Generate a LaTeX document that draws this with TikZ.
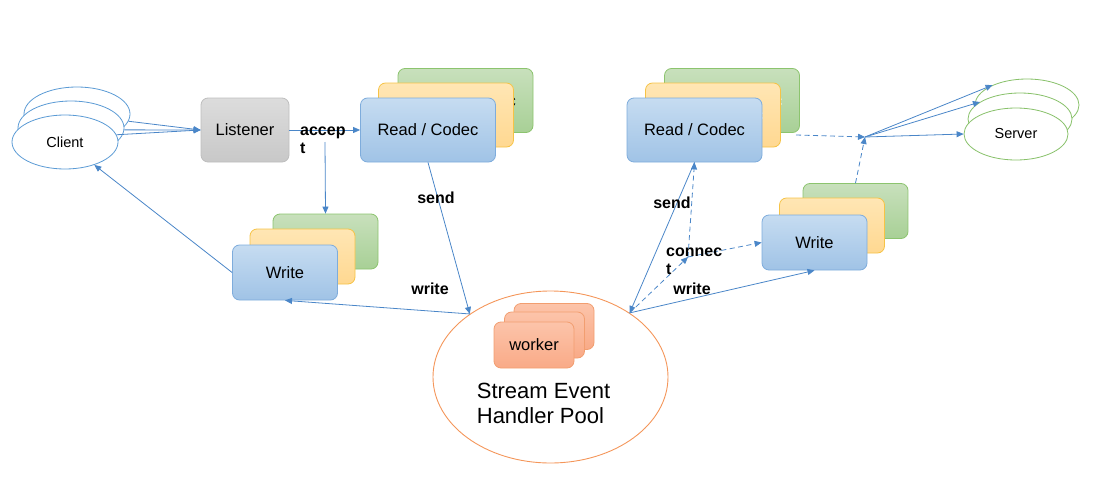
\documentclass[tikz,border=0pt]{standalone}
\usepackage{fontspec}
\setmainfont{Liberation Sans}
\usetikzlibrary{shapes.geometric,arrows.meta}
\definecolor{arrowc}{RGB}{74,134,200}
\definecolor{bluestroke}{RGB}{126,172,220}
\definecolor{bluetop}{RGB}{198,220,241}
\definecolor{bluebot}{RGB}{160,195,230}
\definecolor{yelstroke}{RGB}{246,195,70}
\definecolor{yeltop}{RGB}{255,230,180}
\definecolor{yelbot}{RGB}{255,216,145}
\definecolor{grnstroke}{RGB}{140,196,110}
\definecolor{grntop}{RGB}{200,224,188}
\definecolor{grnbot}{RGB}{168,208,150}
\definecolor{graystroke}{RGB}{190,190,190}
\definecolor{graytop}{RGB}{220,220,220}
\definecolor{graybot}{RGB}{200,200,200}
\definecolor{wkstroke}{RGB}{242,158,112}
\definecolor{wktop}{RGB}{252,196,170}
\definecolor{wkbot}{RGB}{249,170,135}
\definecolor{poolstroke}{RGB}{244,150,90}
\definecolor{clistroke}{RGB}{91,155,213}
\definecolor{srvstroke}{RGB}{136,193,106}
\tikzset{
  bx/.style={draw, rounded corners=7pt, inner sep=0pt, line width=0.8pt, font=\fontsize{16.5}{19}\selectfont},
  bluebx/.style={bx, draw=bluestroke, top color=bluetop, bottom color=bluebot},
  yelbx/.style={bx, draw=yelstroke, top color=yeltop, bottom color=yelbot},
  grnbx/.style={bx, draw=grnstroke, top color=grntop, bottom color=grnbot},
  graybx/.style={bx, draw=graystroke, top color=graytop, bottom color=graybot},
  wkbx/.style={bx, draw=wkstroke, top color=wktop, bottom color=wkbot, minimum width=80pt, minimum height=46pt},
  readsz/.style={minimum width=135pt, minimum height=64pt},
  writesz/.style={minimum width=105pt, minimum height=55pt},
  cli/.style={ellipse, draw=clistroke, fill=white, line width=0.8pt, minimum width=106pt, minimum height=54pt, inner sep=0pt, font=\fontsize{14.5}{17}\selectfont},
  srv/.style={ellipse, draw=srvstroke, fill=white, line width=0.8pt, minimum width=104pt, minimum height=52pt, inner sep=0pt, font=\fontsize{14.5}{17}\selectfont},
  arr/.style={draw=arrowc, line width=0.8pt, -{Triangle[length=7pt,width=6pt]}},
  dsh/.style={arr, dash pattern=on 5pt off 3.5pt},
  lbl/.style={font=\bfseries\fontsize{16}{18}\selectfont, align=left, inner sep=0pt}
}
\begin{document}
\begin{tikzpicture}[x=1pt,y=-1pt]
\useasboundingbox (0,0) rectangle (1103,479);
% clients
\node[cli] (cb) at (77,114) {};
\node[cli] (cm) at (71,128) {};
\node[cli] (cf) at (65,142) {Client};
% listener
\node[graybx, minimum width=88pt, minimum height=64pt] (lis) at (245,130) {Listener};
% left read stack
\node[grnbx, readsz] (rl3) at (465.5,100.5) {Read / Codec};
\node[yelbx, readsz] (rl2) at (446,115) {Read / Codec};
\node[bluebx, readsz] (rl1) at (428,130) {Read / Codec};
% left write stack
\node[grnbx, writesz] (lw3) at (325.5,241.5) {};
\node[yelbx, writesz] (lw2) at (302.5,256.5) {};
\node[bluebx, writesz] (lw1) at (285,272.5) {Write};
% right read stack
\node[grnbx, readsz, text=white] (rr3) at (732,100.5) {Read / Codec};
\node[yelbx, readsz, text=white] (rr2) at (713,115) {Read / Codec};
\node[bluebx, readsz] (rr1) at (694.5,130) {Read / Codec};
% right write stack
\node[grnbx, writesz] (rw3) at (855.5,211) {};
\node[yelbx, writesz] (rw2) at (832,225.5) {};
\node[bluebx, writesz] (rw1) at (814.5,242.5) {Write};
% servers
\node[srv] (sb) at (1027,105) {};
\node[srv] (sm) at (1020,119) {};
\node[srv] (sf) at (1016,134) {Server};
% pool
\node[ellipse, draw=poolstroke, line width=0.9pt, minimum width=235pt, minimum height=172pt, inner sep=0pt] (pool) at (550.5,377) {};
\node[wkbx] (wk3) at (554,326.5) {};
\node[wkbx] (wk2) at (544.5,335) {};
\node[wkbx] (wk1) at (534,345) {worker};
\node[align=left, inner sep=0pt, font=\fontsize{22}{25}\selectfont] (pooltxt) at (543.5,403) {Stream Event\\Handler Pool};
% coordinates
\coordinate (accsplit) at (325,142);
\coordinate (conn) at (688,257);
\coordinate (rdout) at (796,135);
\coordinate (jn) at (865,137);
% client -> listener
\draw[arr] (cb.-8) -- (lis.west);
\draw[arr] (cm.-2) -- (lis.west);
\draw[arr] (cf.8) -- (lis.west);
% accept
\draw[arr] (lis.east) -- (rl1.west);
\node[lbl, anchor=north west] (acclbl) at (300,127) {accep\\t};
\draw[arr] (accsplit) -- (lw3.north);
% send / write left
\draw[arr] (rl1.south) -- (pool.142);
\node[lbl] (sendl) at (436,198) {send};
\draw[arr] (pool.142) -- (lw1.south);
\node[lbl] (writel) at (430,289) {write};
\draw[arr] (lw1.west) -- (cf.-38);
% right side
\draw[arr] (rr1.south) -- (pool.39);
\node[lbl] (sendr) at (672,202.5) {send};
\draw[dsh] (pool.39) -- (conn);
\draw[dsh] (conn) -- (rr1.south);
\draw[dsh] (conn) -- (rw1.west);
\node[lbl, anchor=north west] (connlbl) at (666,248) {connec\\t};
\draw[arr] (pool.39) -- (rw1.south);
\node[lbl] (writer) at (692,289) {write};
% to servers
\draw[dsh] (rdout) -- (jn);
\draw[dsh] (rw3.north) -- (jn);
\draw[arr] (jn) -- (sb.150);
\draw[arr] (jn) -- (sm.157);
\draw[arr] (jn) -- (sf.west);
\end{tikzpicture}
\end{document}
